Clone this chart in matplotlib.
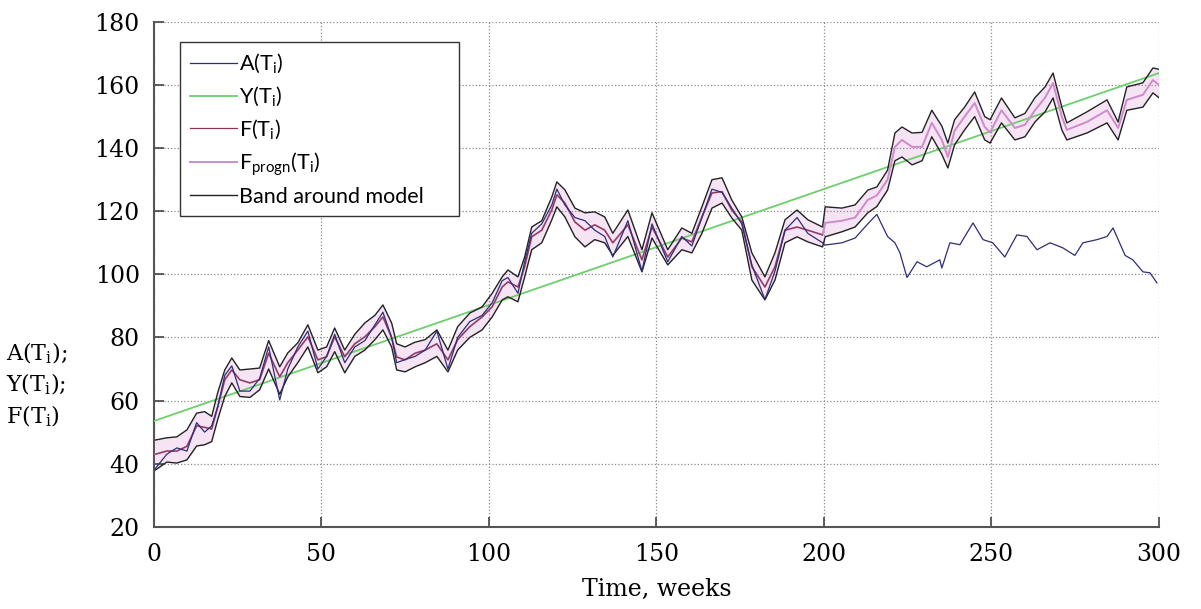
import matplotlib
matplotlib.use("Agg")
import matplotlib.pyplot as plt

# model knots (weeks) with band upper / model / band lower
weeks = [0.5, 3.9, 6.9, 9.9, 12.8, 15.2, 17.3, 19.1, 21.2, 23.3, 25.7, 28.7, 31.6, 34.3,
         37.6, 40, 43, 46, 49, 51.6, 54, 57, 60, 63, 66, 68.4, 71, 72.5, 75, 78, 81,
         84.5, 87.8, 90.7, 94.3, 98, 101, 104, 105.7, 108.7, 110.7, 112.8, 115.8, 118.8,
         120.3, 122.7, 125.7, 128.7, 131.6, 134.6, 137, 141.5, 145.7, 148.7, 153.4,
         157.6, 160.6, 163.6, 166.6, 169.6, 172.5, 175.5, 178.5, 182.4, 185.4, 188.4,
         192, 195.2, 199.6,
         200.4, 205.4, 209.3, 213.1, 215.8, 219, 221.2, 223.3, 226.3, 229.3, 232.2,
         235.2, 237, 239, 242, 245, 248, 249.6, 253, 257, 260, 263, 266, 268.4, 271,
         272.5, 278.5, 284.5, 287.8, 290.4, 295.2, 298.2, 300]
band_upper = [47.5, 48.2, 48.5, 50.7, 56, 56.5, 55, 62.5, 69.7, 73.5, 69.7, 70, 70.3, 79,
              70.7, 75.1, 78.3, 84, 76, 77, 83, 76, 81, 84.6, 87, 90.3, 84.6, 78, 77, 78.5, 79.3,
              82.4, 76, 83.4, 87.7, 89.7, 94, 99.2, 101.4, 99.2, 105.5, 115, 117, 124.5,
              129.3, 126.8, 121, 119.5, 119.8, 118.2, 113, 120.4, 107.8, 119.5, 107.8,
              114.7, 113, 121.4, 130, 130.6, 123.6, 118.2, 106.8, 99.2, 106.8, 117.3,
              120.4, 117.3, 115,
              121.4, 121, 122, 126.7, 127.7, 133, 144.8, 146.7, 144.8, 145, 152,
              147, 141.6, 149, 153, 157.8, 150, 149, 155.9, 149.6, 151, 156, 159.4, 163.8, 153,
              148, 151.5, 155.3, 148.3, 159.4, 160.7, 165.4, 165]
f_model = [43, 44, 44, 45.5, 52, 51.5, 51, 58, 66.6, 69.7, 66.6, 65.6, 66.6, 75,
           67.5, 72, 76, 80.2, 72.9, 73.9, 80.2, 73.9, 78, 80.2, 83.4, 86.5, 80, 73.8, 72.9, 75, 76,
           78, 72.9, 79.3, 83.4, 86.5, 89.7, 96, 97.6, 96, 102.4, 111.9, 114, 120.4,
           125.2, 122.6, 116.6, 114, 115.7, 114, 110, 115.7, 104.6, 115, 105.5,
           111.5, 110.3, 118.2, 125.8, 126.2, 120.4, 116.6, 102.4, 96, 102.4, 114,
           115, 114, 112.5,
           116.3, 117, 118, 123.6, 125, 130, 140.4, 142.6, 140.4, 140.4, 148,
           142.6, 137.2, 145.5, 150, 154.3, 146.7, 145, 152, 146.4, 147.4, 152, 156, 160.6, 150,
           145.8, 148.3, 152, 146.4, 155.3, 156.9, 161.6, 160]
band_lower = [38, 40.5, 40.2, 41.2, 45.6, 46, 47, 54, 61.3, 65.6, 61.3, 61, 63.4, 70,
              62, 67.5, 72, 77, 68.8, 70.7, 75.5, 68.8, 74, 76, 79.3, 82.4, 77, 69.7, 69.1, 70.7, 72,
              74, 69.1, 76, 80, 82.4, 86.5, 91.9, 92.9, 91.3, 99.2, 107.8, 110, 117.3,
              121.4, 118.2, 111.9, 108.7, 111, 110, 106, 112, 100.8, 111.5, 103,
              107.8, 106.8, 113, 121, 122.6, 117.9, 114, 98.2, 91.9, 98.2, 110,
              111.9, 110.3, 108.7,
              111.9, 113.5, 115, 119.5, 121.5, 126.7, 136, 137.2, 134.7, 136, 143.6,
              138, 133.7, 141, 145.8, 150, 142.6, 141.6, 148, 142.6, 143.6, 148.3, 151.5, 155.9, 145.8,
              142.6, 144.8, 148, 142.6, 152, 153, 157.5, 156]

# actual series A(Ti)
a_weeks = [0.5, 3.9, 6.9, 9.9, 12.8, 15.2, 17.3, 19.1, 21.2, 23.3, 25.7, 28.7, 31.6, 34.3,
           37.6, 40, 43, 46, 49, 51.6, 54, 57, 60, 63, 66, 68.4, 71, 72.5, 75, 78, 81,
           84.5, 87.8, 90.7, 94.3, 98, 101, 104, 105.7, 108.7, 110.7, 112.8, 115.8, 118.8,
           120.3, 122.7, 125.7, 128.7, 131.6, 134.6, 137, 141.5, 145.7, 148.7, 153.4,
           157.6, 160.6, 163.6, 166.6, 169.6, 172.5, 175.5, 178.5, 182.4, 185.4, 188.4,
           192, 195.2, 199.6,
           200.4, 205.4, 209.3, 213.1, 215.8, 219, 221.2, 222.7, 224.8, 227.8, 230.7,
           234.6, 235.2, 237.6, 240.6, 244.5, 247.5, 250.4, 254, 257.6, 260.6, 263.6,
           267.5, 271.3, 274.9, 277.3, 281.5, 284.5, 286.3, 289.9, 292.2, 295.2, 297.3, 299.4]
a_values = [38.5, 43, 45, 44, 53, 50, 52, 58, 68, 71, 63, 63, 67, 77,
            60.2, 70, 77, 82, 70, 74, 81, 72, 77, 79, 84, 88, 80, 72, 73, 74, 76,
            82, 70, 80, 85, 87, 91, 98, 99, 94, 104, 113, 116, 122,
            127, 122, 118, 117, 114, 112, 105.5, 117, 101, 116, 104,
            112, 109, 118, 127, 126, 121, 116, 103, 92, 101, 114,
            118, 113, 110,
            109.3, 110, 111.5, 116, 119, 112, 110, 106.8, 99, 104, 102.4,
            104.6, 102, 110, 109.4, 116.3, 111, 110, 105.5, 112.5, 112, 107.8,
            110, 108.4, 106, 110, 111, 112, 114.7, 106, 104.6, 100.8, 100.5, 97.3]

# linear trend Y(Ti), its two end points
y_weeks = [0, 300]
y_values = [53.5, 163.8]

n_fit = 69  # knots up to week 200 belong to the fitted model F(Ti)

fig = plt.figure(figsize=(12.01, 6.09), dpi=100)
ax = fig.add_axes([0.128, 0.135, 0.837, 0.829])

ax.fill_between(weeks, band_lower, band_upper, color='#f6e4f4', lw=0, zorder=1)
ax.plot(y_weeks, y_values, color='#6ccf6c', lw=1.3, zorder=3, label=r'Y(T$_\mathregular{i}$)')
ax.plot(weeks, f_model, color='#cf8acb', lw=1.4, zorder=4,
        label=r'F$_\mathregular{progn}$(T$_\mathregular{i}$)')
ax.plot(weeks[:n_fit], f_model[:n_fit], color='#8a3a50', lw=0.9, zorder=5,
        label=r'F(T$_\mathregular{i}$)')
ax.plot(a_weeks, a_values, color='#2e2e78', lw=0.9, zorder=6, label=r'A(T$_\mathregular{i}$)')
ax.plot(weeks, band_upper, color='#222222', lw=1.0, zorder=5, label='Band around model')
ax.plot(weeks, band_lower, color='#222222', lw=1.0, zorder=5)

ax.set_xlim(0, 300)
ax.set_ylim(20, 180)
ax.set_xticks(range(0, 301, 50))
ax.set_yticks(range(20, 181, 20))
ax.grid(True, ls=':', color='#8a8a8a', lw=0.9)
for s in ['top', 'right']:
    ax.spines[s].set_visible(False)
for s in ['left', 'bottom']:
    ax.spines[s].set_color('#555555')
    ax.spines[s].set_linewidth(1.5)
ax.tick_params(direction='in', length=7, width=1.2, color='#444444')
ax.tick_params(axis='y', pad=10)
ax.tick_params(axis='x', pad=12)
for lab in ax.get_xticklabels() + ax.get_yticklabels():
    lab.set_fontfamily('DejaVu Serif')
    lab.set_fontsize(17)
ax.set_xlabel('Time, weeks', fontfamily='DejaVu Serif', fontsize=17, labelpad=8)

fig.text(0.005, 0.368, 'A(T$_\\mathregular{i}$);\nY(T$_\\mathregular{i}$);\nF(T$_\\mathregular{i}$)',
         fontfamily='DejaVu Serif', fontsize=16, ha='left', va='center', linespacing=1.3)

h, l = ax.get_legend_handles_labels()
order = [3, 0, 2, 1, 4]
leg = ax.legend([h[i] for i in order], [l[i] for i in order], loc='upper left',
                bbox_to_anchor=(0.026, 0.628, 0.278, 0.332), mode='expand',
                borderaxespad=0, fancybox=False, framealpha=1,
                edgecolor='#333333', handlelength=2.2, handletextpad=0.08,
                labelspacing=0.4, borderpad=0.45,
                prop={'family': 'Lato', 'size': 15.5})
leg.get_frame().set_linewidth(1.0)
leg.set_zorder(10)

fig.savefig('out.png', dpi=100)
